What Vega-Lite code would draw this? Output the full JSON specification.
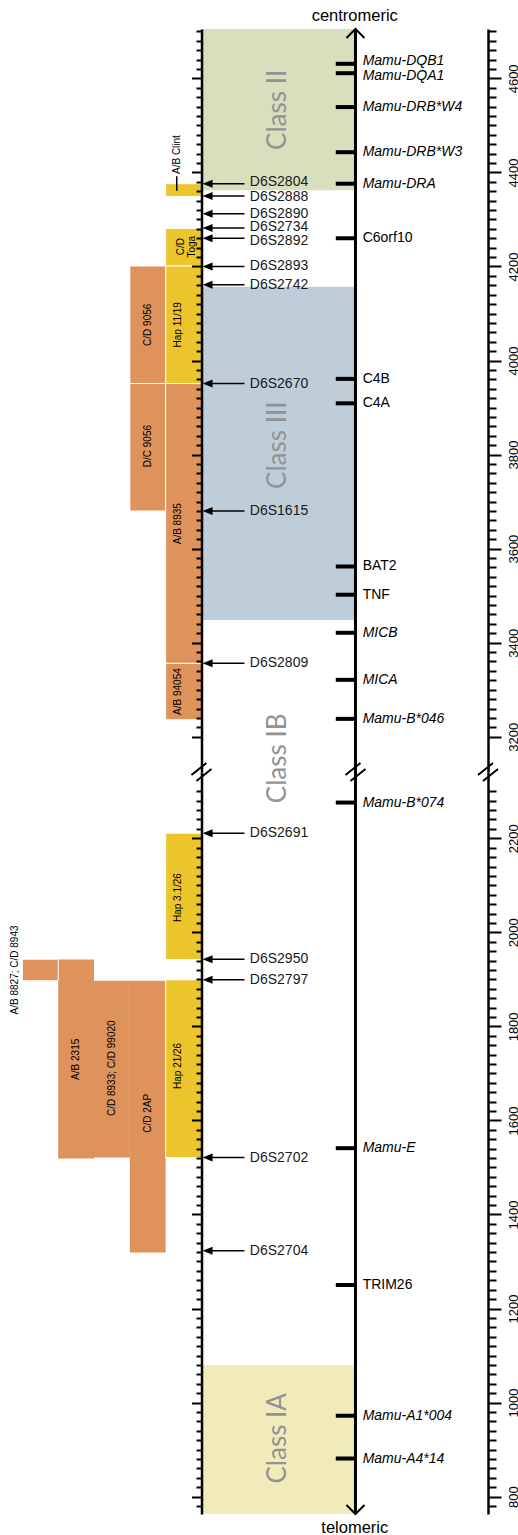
{
  "$schema": "https://vega.github.io/schema/vega-lite/v6.json",
  "padding": {"top": 7, "left": 0, "right": 0, "bottom": 0},
  "spacing": 0,
  "bounds": "flush",
  "config": {"view": {"stroke": null}, "font": "Liberation Sans"},
  "datasets": {
    "regions": [
      {"name": "Class II", "y": 4705, "y2": 4362},
      {"name": "Class III", "y": 4157, "y2": 3448},
      {"name": "Class IA", "y": 1080, "y2": 763}
    ],
    "classLabels": [
      {"name": "Class II", "y": 4533},
      {"name": "Class III", "y": 3820},
      {"name": "Class IB", "y": 3154},
      {"name": "Class IA", "y": 924}
    ],
    "bars": [
      {"label": "A/B Clint", "kind": "hap", "x": -1, "x2": 0, "y": 4376, "y2": 4349, "lx": -0.69, "ly": 4438},
      {"label": "C/D\nToga", "kind": "hap", "x": -1, "x2": 0, "y": 4281, "y2": 4201, "lx": -0.56, "ly": 4242},
      {"label": "Hap 11/19", "kind": "hap", "x": -1, "x2": 0, "y": 4201, "y2": 3951, "lx": -0.65, "ly": 4076},
      {"label": "C/D 9056", "kind": "animal", "x": -2, "x2": -1, "y": 4201, "y2": 3951, "lx": -1.5, "ly": 4076},
      {"label": "D/C 9056", "kind": "animal", "x": -2, "x2": -1, "y": 3951, "y2": 3680, "lx": -1.5, "ly": 3818},
      {"label": "A/B 8935", "kind": "animal", "x": -1, "x2": 0, "y": 3951, "y2": 3356, "lx": -0.65, "ly": 3653},
      {"label": "A/B 94054", "kind": "animal", "x": -1, "x2": 0, "y": 3356, "y2": 3236, "lx": -0.65, "ly": 3296},
      {"label": "Hap 3.1/26", "kind": "hap", "x": -1, "x2": 0, "y": 2211, "y2": 1942, "lx": -0.65, "ly": 2074},
      {"label": "Hap 21/26", "kind": "hap", "x": -1, "x2": 0, "y": 1899, "y2": 1521, "lx": -0.65, "ly": 1716},
      {"label": "A/B 8827; C/D 8943", "kind": "animal", "x": -5, "x2": -4, "y": 1943, "y2": 1897, "lx": -5.21, "ly": 1920},
      {"label": "A/B 2315", "kind": "animal", "x": -4, "x2": -3, "y": 1942, "y2": 1519, "lx": -3.5, "ly": 1730},
      {"label": "C/D 8933; C/D 99020", "kind": "animal", "x": -3, "x2": -2, "y": 1897, "y2": 1521, "lx": -2.5, "ly": 1711},
      {"label": "C/D 2AP", "kind": "animal", "x": -2, "x2": -1, "y": 1897, "y2": 1319, "lx": -1.5, "ly": 1615}
    ],
    "markers": [
      {"name": "D6S2804", "y": 4376, "ly": 4379},
      {"name": "D6S2888", "y": 4350, "ly": 4347},
      {"name": "D6S2890", "y": 4312, "ly": 4312},
      {"name": "D6S2734", "y": 4282, "ly": 4284},
      {"name": "D6S2892", "y": 4260, "ly": 4255},
      {"name": "D6S2893", "y": 4200, "ly": 4200},
      {"name": "D6S2742", "y": 4161, "ly": 4161},
      {"name": "D6S2670", "y": 3951, "ly": 3951},
      {"name": "D6S1615", "y": 3680, "ly": 3680},
      {"name": "D6S2809", "y": 3356, "ly": 3356},
      {"name": "D6S2691", "y": 2211, "ly": 2211},
      {"name": "D6S2950", "y": 1943, "ly": 1943},
      {"name": "D6S2797", "y": 1899, "ly": 1899},
      {"name": "D6S2702", "y": 1521, "ly": 1521},
      {"name": "D6S2704", "y": 1323, "ly": 1323}
    ],
    "genes": [
      {"name": "Mamu-DQB1", "y": 4631, "ly": 4636, "group": "MHC"},
      {"name": "Mamu-DQA1", "y": 4611, "ly": 4606, "group": "MHC"},
      {"name": "Mamu-DRB*W4", "y": 4539, "ly": 4539, "group": "MHC"},
      {"name": "Mamu-DRB*W3", "y": 4443, "ly": 4443, "group": "MHC"},
      {"name": "Mamu-DRA", "y": 4376, "ly": 4376, "group": "MHC"},
      {"name": "C6orf10", "y": 4260, "ly": 4260, "group": "other"},
      {"name": "C4B", "y": 3961, "ly": 3961, "group": "other"},
      {"name": "C4A", "y": 3909, "ly": 3909, "group": "other"},
      {"name": "BAT2", "y": 3562, "ly": 3562, "group": "other"},
      {"name": "TNF", "y": 3502, "ly": 3502, "group": "other"},
      {"name": "MICB", "y": 3421, "ly": 3421, "group": "MHC"},
      {"name": "MICA", "y": 3321, "ly": 3321, "group": "MHC"},
      {"name": "Mamu-B*046", "y": 3238, "ly": 3238, "group": "MHC"},
      {"name": "Mamu-B*074", "y": 2276, "ly": 2276, "group": "MHC"},
      {"name": "Mamu-E", "y": 1541, "ly": 1541, "group": "MHC"},
      {"name": "TRIM26", "y": 1250, "ly": 1250, "group": "other"},
      {"name": "Mamu-A1*004", "y": 972, "ly": 972, "group": "MHC"},
      {"name": "Mamu-A4*14", "y": 881, "ly": 881, "group": "MHC"}
    ]
  },
  "vconcat": [
    {
      "width": 488,
      "height": 743,
      "resolve": {"axis": {"y": "independent"}},
      "layer": [
        {
          "data": {"name": "regions"},
          "transform": [{"filter": "datum.y > 2700"}],
          "mark": {"type": "rect"},
          "encoding": {
            "x": {"datum": 0, "type": "quantitative", "scale": {"domain": [-5.625, 8], "nice": false, "zero": false}, "axis": null},
            "x2": {"datum": 4.3},
            "y": {"field": "y", "type": "quantitative", "scale": {"domain": [3125, 4705], "nice": false, "zero": false},
              "axis": {"orient": "left", "offset": -201.5, "title": null, "grid": false, "labels": false, "zindex": 1,
                "domainColor": "#000", "domainWidth": 2.5, "tickColor": "#000", "tickWidth": 2,
                "tickSize": {"condition": {"test": "datum.value % 200 === 0", "value": 10}, "value": 5.5},
                "values": [3200,3220,3240,3260,3280,3300,3320,3340,3360,3380,3400,3420,3440,3460,3480,3500,3520,3540,3560,3580,3600,3620,3640,3660,3680,3700,3720,3740,3760,3780,3800,3820,3840,3860,3880,3900,3920,3940,3960,3980,4000,4020,4040,4060,4080,4100,4120,4140,4160,4180,4200,4220,4240,4260,4280,4300,4320,4340,4360,4380,4400,4420,4440,4460,4480,4500,4520,4540,4560,4580,4600,4620,4640,4660,4680,4700]}},
            "y2": {"field": "y2"},
            "fill": {"field": "name", "type": "nominal", "scale": {"domain": ["Class II", "Class III", "Class IA"], "range": ["#d8dfbc", "#becdd8", "#f1ebbb"]}, "legend": null}
          }
        },
        {
          "data": {"name": "bars"},
          "transform": [{"filter": "datum.y > 2700"}],
          "mark": {"type": "rect", "stroke": "#ffffff", "strokeWidth": 1},
          "encoding": {
            "x": {"field": "x", "type": "quantitative", "axis": null},
            "x2": {"field": "x2"},
            "y": {"field": "y", "type": "quantitative", "axis": null},
            "y2": {"field": "y2"},
            "color": {"field": "kind", "type": "nominal", "scale": {"domain": ["hap", "animal"], "range": ["#ecc42b", "#de925c"]}, "legend": null}
          }
        },
        {
          "data": {"name": "bars"},
          "transform": [{"filter": "datum.y > 2700"}],
          "mark": {"type": "text", "angle": 270, "align": "center", "baseline": "middle", "fontSize": 10, "lineBreak": "\n", "lineHeight": 11, "color": "#000"},
          "encoding": {
            "x": {"field": "lx", "type": "quantitative", "axis": null},
            "y": {"field": "ly", "type": "quantitative", "axis": null},
            "text": {"field": "label"}
          }
        },
        {
          "data": {"values": [{"x": -0.69, "y": 4392, "y2": 4361}]},
          "mark": {"type": "rule", "color": "#000", "strokeWidth": 1.5},
          "encoding": {
            "x": {"field": "x", "type": "quantitative", "axis": null},
            "y": {"field": "y", "type": "quantitative", "axis": null},
            "y2": {"field": "y2"}
          }
        },
        {
          "data": {"name": "markers"},
          "transform": [{"filter": "datum.y > 2700"}],
          "mark": {"type": "rule", "color": "#000", "strokeWidth": 1.5},
          "encoding": {
            "x": {"datum": 0.22, "type": "quantitative", "axis": null},
            "x2": {"datum": 1.2},
            "y": {"field": "y", "type": "quantitative", "axis": null}
          }
        },
        {
          "data": {"name": "markers"},
          "transform": [{"filter": "datum.y > 2700"}],
          "mark": {"type": "point", "shape": "M 0 0 L 1 -0.4 L 1 0.4 Z", "filled": true, "color": "#000", "opacity": 1, "size": 400},
          "encoding": {
            "x": {"datum": 0.03, "type": "quantitative", "axis": null},
            "y": {"field": "y", "type": "quantitative", "axis": null}
          }
        },
        {
          "data": {"name": "markers"},
          "transform": [{"filter": "datum.y > 2700"}],
          "mark": {"type": "text", "align": "left", "baseline": "middle", "fontSize": 14, "color": "#1a1a1a"},
          "encoding": {
            "x": {"datum": 1.35, "type": "quantitative", "axis": null},
            "y": {"field": "ly", "type": "quantitative", "axis": null},
            "text": {"field": "name"}
          }
        },
        {
          "data": {"values": [{}]},
          "mark": {"type": "rule", "color": "#000", "strokeWidth": 3},
          "encoding": {
            "x": {"datum": 4.3, "type": "quantitative", "axis": null}
          }
        },
        {
          "data": {"name": "genes"},
          "transform": [{"filter": "datum.y > 2700"}],
          "mark": {"type": "rule", "color": "#000", "strokeWidth": 4},
          "encoding": {
            "x": {"datum": 3.75, "type": "quantitative", "axis": null},
            "x2": {"datum": 4.3},
            "y": {"field": "y", "type": "quantitative",
              "axis": {"orient": "right", "title": null, "grid": false, "zindex": 1,
                "domainColor": "#000", "domainWidth": 2.5, "tickColor": "#000", "tickWidth": 2,
                "tickSize": {"condition": {"test": "datum.value % 200 === 0", "value": 13}, "value": 8},
                "labelExpr": "datum.value % 200 === 0 ? '' + datum.value : ''",
                "labelAngle": 270, "labelAlign": "center", "labelBaseline": "top", "labelPadding": 6,
                "labelFont": "Liberation Sans", "labelFontSize": 13, "labelColor": "#000",
                "labelOverlap": false, "labelFlush": false, "labelBound": false,
                "values": [3200,3220,3240,3260,3280,3300,3320,3340,3360,3380,3400,3420,3440,3460,3480,3500,3520,3540,3560,3580,3600,3620,3640,3660,3680,3700,3720,3740,3760,3780,3800,3820,3840,3860,3880,3900,3920,3940,3960,3980,4000,4020,4040,4060,4080,4100,4120,4140,4160,4180,4200,4220,4240,4260,4280,4300,4320,4340,4360,4380,4400,4420,4440,4460,4480,4500,4520,4540,4560,4580,4600,4620,4640,4660,4680,4700]}}
          }
        },
        {
          "data": {"name": "genes"},
          "transform": [{"filter": "datum.y > 2700 && datum.group === 'MHC'"}],
          "mark": {"type": "text", "align": "left", "baseline": "middle", "fontSize": 14, "fontStyle": "italic", "color": "#000"},
          "encoding": {
            "x": {"datum": 4.5, "type": "quantitative", "axis": null},
            "y": {"field": "ly", "type": "quantitative", "axis": null},
            "text": {"field": "name"}
          }
        },
        {
          "data": {"name": "genes"},
          "transform": [{"filter": "datum.y > 2700 && datum.group === 'other'"}],
          "mark": {"type": "text", "align": "left", "baseline": "middle", "fontSize": 14, "color": "#000"},
          "encoding": {
            "x": {"datum": 4.5, "type": "quantitative", "axis": null},
            "y": {"field": "ly", "type": "quantitative", "axis": null},
            "text": {"field": "name"}
          }
        },
        {
          "data": {"name": "classLabels"},
          "transform": [{"filter": "datum.y > 2700"}],
          "mark": {"type": "text", "angle": 270, "align": "center", "baseline": "middle", "font": "Lato", "fontSize": 26, "color": "#939393"},
          "encoding": {
            "x": {"datum": 2.14, "type": "quantitative", "axis": null},
            "y": {"field": "y", "type": "quantitative", "axis": null},
            "text": {"field": "name"}
          }
        },
        {
          "data": {"values": [{}]},
          "mark": {"type": "point", "shape": "M -1 1 L 0 0 L 1 1", "filled": false, "color": "#000", "opacity": 1, "strokeWidth": 2, "size": 324},
          "encoding": {
            "x": {"datum": 4.3, "type": "quantitative", "axis": null},
            "y": {"datum": 4705, "type": "quantitative", "axis": null}
          }
        },
        {
          "data": {"values": [{"axis": 0}, {"axis": 4.3}, {"axis": 8}]},
          "mark": {"type": "point", "shape": "M -1 0.3 L 0.5 -0.9 M -0.5 0.9 L 1 -0.3", "filled": false, "color": "#000", "opacity": 1, "strokeWidth": 2, "size": 400},
          "encoding": {
            "x": {"field": "axis", "type": "quantitative", "axis": null},
            "y": {"datum": 3125, "type": "quantitative", "axis": null}
          }
        },
        {
          "data": {"values": [{}]},
          "mark": {"type": "text", "align": "center", "baseline": "middle", "fontSize": 16.5, "color": "#000"},
          "encoding": {
            "x": {"datum": 4.28, "type": "quantitative", "axis": null},
            "y": {"datum": 4733, "type": "quantitative", "axis": null},
            "text": {"value": "centromeric"}
          }
        }
      ]
    },
    {
      "width": 488,
      "height": 742,
      "resolve": {"axis": {"y": "independent"}},
      "layer": [
        {
          "data": {"name": "regions"},
          "transform": [{"filter": "datum.y < 2700"}],
          "mark": {"type": "rect"},
          "encoding": {
            "x": {"datum": 0, "type": "quantitative", "scale": {"domain": [-5.625, 8], "nice": false, "zero": false}, "axis": null},
            "x2": {"datum": 4.3},
            "y": {"field": "y", "type": "quantitative", "scale": {"domain": [763, 2341], "nice": false, "zero": false},
              "axis": {"orient": "left", "offset": -201.5, "title": null, "grid": false, "labels": false, "zindex": 1,
                "domainColor": "#000", "domainWidth": 2.5, "tickColor": "#000", "tickWidth": 2,
                "tickSize": {"condition": {"test": "datum.value % 200 === 0", "value": 10}, "value": 5.5},
                "values": [780,800,820,840,860,880,900,920,940,960,980,1000,1020,1040,1060,1080,1100,1120,1140,1160,1180,1200,1220,1240,1260,1280,1300,1320,1340,1360,1380,1400,1420,1440,1460,1480,1500,1520,1540,1560,1580,1600,1620,1640,1660,1680,1700,1720,1740,1760,1780,1800,1820,1840,1860,1880,1900,1920,1940,1960,1980,2000,2020,2040,2060,2080,2100,2120,2140,2160,2180,2200,2220,2240,2260,2280,2300]}},
            "y2": {"field": "y2"},
            "fill": {"field": "name", "type": "nominal", "scale": {"domain": ["Class II", "Class III", "Class IA"], "range": ["#d8dfbc", "#becdd8", "#f1ebbb"]}, "legend": null}
          }
        },
        {
          "data": {"name": "bars"},
          "transform": [{"filter": "datum.y < 2700 && (datum.label === 'A/B 2315' || datum.label === 'C/D 8933; C/D 99020' || datum.label === 'C/D 2AP')"}],
          "mark": {"type": "rect"},
          "encoding": {
            "x": {"field": "x", "type": "quantitative", "axis": null},
            "x2": {"field": "x2"},
            "y": {"field": "y", "type": "quantitative", "axis": null},
            "y2": {"field": "y2"},
            "color": {"field": "kind", "type": "nominal", "scale": {"domain": ["hap", "animal"], "range": ["#ecc42b", "#de925c"]}, "legend": null}
          }
        },
        {
          "data": {"name": "bars"},
          "transform": [{"filter": "datum.y < 2700 && datum.label !== 'A/B 2315' && datum.label !== 'C/D 8933; C/D 99020' && datum.label !== 'C/D 2AP'"}],
          "mark": {"type": "rect", "stroke": "#ffffff", "strokeWidth": 1},
          "encoding": {
            "x": {"field": "x", "type": "quantitative", "axis": null},
            "x2": {"field": "x2"},
            "y": {"field": "y", "type": "quantitative", "axis": null},
            "y2": {"field": "y2"},
            "color": {"field": "kind", "type": "nominal", "scale": {"domain": ["hap", "animal"], "range": ["#ecc42b", "#de925c"]}, "legend": null}
          }
        },
        {
          "data": {"name": "bars"},
          "transform": [{"filter": "datum.y < 2700"}],
          "mark": {"type": "text", "angle": 270, "align": "center", "baseline": "middle", "fontSize": 10, "lineBreak": "\n", "lineHeight": 11, "color": "#000"},
          "encoding": {
            "x": {"field": "lx", "type": "quantitative", "axis": null},
            "y": {"field": "ly", "type": "quantitative", "axis": null},
            "text": {"field": "label"}
          }
        },
        {
          "data": {"name": "markers"},
          "transform": [{"filter": "datum.y < 2700"}],
          "mark": {"type": "rule", "color": "#000", "strokeWidth": 1.5},
          "encoding": {
            "x": {"datum": 0.22, "type": "quantitative", "axis": null},
            "x2": {"datum": 1.2},
            "y": {"field": "y", "type": "quantitative", "axis": null}
          }
        },
        {
          "data": {"name": "markers"},
          "transform": [{"filter": "datum.y < 2700"}],
          "mark": {"type": "point", "shape": "M 0 0 L 1 -0.4 L 1 0.4 Z", "filled": true, "color": "#000", "opacity": 1, "size": 400},
          "encoding": {
            "x": {"datum": 0.03, "type": "quantitative", "axis": null},
            "y": {"field": "y", "type": "quantitative", "axis": null}
          }
        },
        {
          "data": {"name": "markers"},
          "transform": [{"filter": "datum.y < 2700"}],
          "mark": {"type": "text", "align": "left", "baseline": "middle", "fontSize": 14, "color": "#1a1a1a"},
          "encoding": {
            "x": {"datum": 1.35, "type": "quantitative", "axis": null},
            "y": {"field": "ly", "type": "quantitative", "axis": null},
            "text": {"field": "name"}
          }
        },
        {
          "data": {"values": [{}]},
          "mark": {"type": "rule", "color": "#000", "strokeWidth": 3},
          "encoding": {
            "x": {"datum": 4.3, "type": "quantitative", "axis": null}
          }
        },
        {
          "data": {"name": "genes"},
          "transform": [{"filter": "datum.y < 2700"}],
          "mark": {"type": "rule", "color": "#000", "strokeWidth": 4},
          "encoding": {
            "x": {"datum": 3.75, "type": "quantitative", "axis": null},
            "x2": {"datum": 4.3},
            "y": {"field": "y", "type": "quantitative",
              "axis": {"orient": "right", "title": null, "grid": false, "zindex": 1,
                "domainColor": "#000", "domainWidth": 2.5, "tickColor": "#000", "tickWidth": 2,
                "tickSize": {"condition": {"test": "datum.value % 200 === 0", "value": 13}, "value": 8},
                "labelExpr": "datum.value % 200 === 0 ? '' + datum.value : ''",
                "labelAngle": 270, "labelAlign": "center", "labelBaseline": "top", "labelPadding": 6,
                "labelFont": "Liberation Sans", "labelFontSize": 13, "labelColor": "#000",
                "labelOverlap": false, "labelFlush": false, "labelBound": false,
                "values": [780,800,820,840,860,880,900,920,940,960,980,1000,1020,1040,1060,1080,1100,1120,1140,1160,1180,1200,1220,1240,1260,1280,1300,1320,1340,1360,1380,1400,1420,1440,1460,1480,1500,1520,1540,1560,1580,1600,1620,1640,1660,1680,1700,1720,1740,1760,1780,1800,1820,1840,1860,1880,1900,1920,1940,1960,1980,2000,2020,2040,2060,2080,2100,2120,2140,2160,2180,2200,2220,2240,2260,2280,2300]}}
          }
        },
        {
          "data": {"name": "genes"},
          "transform": [{"filter": "datum.y < 2700 && datum.group === 'MHC'"}],
          "mark": {"type": "text", "align": "left", "baseline": "middle", "fontSize": 14, "fontStyle": "italic", "color": "#000"},
          "encoding": {
            "x": {"datum": 4.5, "type": "quantitative", "axis": null},
            "y": {"field": "ly", "type": "quantitative", "axis": null},
            "text": {"field": "name"}
          }
        },
        {
          "data": {"name": "genes"},
          "transform": [{"filter": "datum.y < 2700 && datum.group === 'other'"}],
          "mark": {"type": "text", "align": "left", "baseline": "middle", "fontSize": 14, "color": "#000"},
          "encoding": {
            "x": {"datum": 4.5, "type": "quantitative", "axis": null},
            "y": {"field": "ly", "type": "quantitative", "axis": null},
            "text": {"field": "name"}
          }
        },
        {
          "data": {"name": "classLabels"},
          "transform": [{"filter": "datum.y < 2700"}],
          "mark": {"type": "text", "angle": 270, "align": "center", "baseline": "middle", "font": "Lato", "fontSize": 26, "color": "#939393"},
          "encoding": {
            "x": {"datum": 2.14, "type": "quantitative", "axis": null},
            "y": {"field": "y", "type": "quantitative", "axis": null},
            "text": {"field": "name"}
          }
        },
        {
          "data": {"values": [{}]},
          "mark": {"type": "point", "shape": "M -1 -1 L 0 0 L 1 -1", "filled": false, "color": "#000", "opacity": 1, "strokeWidth": 2, "size": 324},
          "encoding": {
            "x": {"datum": 4.3, "type": "quantitative", "axis": null},
            "y": {"datum": 763, "type": "quantitative", "axis": null}
          }
        },
        {
          "data": {"values": [{}]},
          "mark": {"type": "text", "align": "center", "baseline": "middle", "fontSize": 16.5, "color": "#000"},
          "encoding": {
            "x": {"datum": 4.28, "type": "quantitative", "axis": null},
            "y": {"datum": 734, "type": "quantitative", "axis": null},
            "text": {"value": "telomeric"}
          }
        }
      ]
    }
  ]
}
